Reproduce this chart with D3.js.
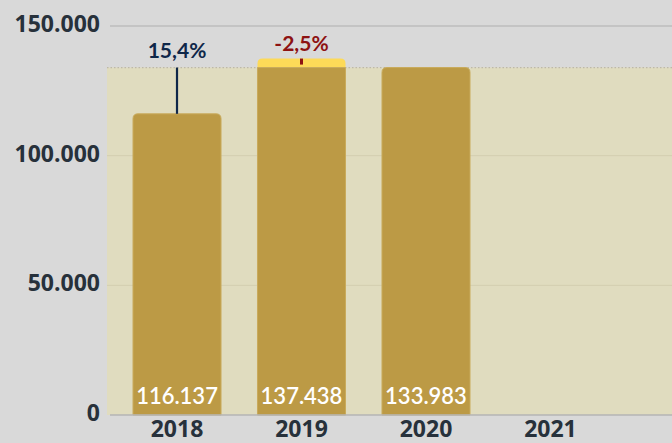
<!DOCTYPE html>
<meta charset="utf-8">
<style>
body { margin: 0; background: #d9d9d9; }
svg { display: block; font-family: Lato, "Open Sans", sans-serif; }
.tick-label { fill: #27313b; font-family: "Open Sans", sans-serif; font-weight: 700; font-size: 23px; }
.value-label { fill: #fff; font-weight: 600; font-size: 22px; }
</style>
<svg width="672" height="443"></svg>
<script src="https://d3js.org/d3.v7.min.js"></script>
<script>

var years = ["2018", "2019", "2020", "2021"];
var values = [116137, 137438, 133983, null];
var changes = [null, 15.4, -2.5, null];   // change vs previous year, drawn over previous bar
var yTicks = [0, 50000, 100000, 150000];

var svg = d3.select("svg"),
    width = +svg.attr("width"),
    height = +svg.attr("height");

var left = 107, baseline = 415;

var x = d3.scaleBand()
    .domain(years)
    .range([133, 594.5])
    .paddingInner(0.293)
    .paddingOuter(0);

var y = d3.scaleLinear()
    .domain([0, 150000])
    .range([baseline, 26]);

var fmt = function(v) { return d3.format(",")(v).replace(/,/g, "."); };

// gridlines
svg.selectAll(".grid")
  .data(yTicks.filter(function(d) { return d > 0; }))
  .enter().append("line")
    .attr("x1", left + 3).attr("x2", width)
    .attr("y1", function(d) { return y(d); })
    .attr("y2", function(d) { return y(d); })
    .attr("stroke", "#bdbdbd")
    .attr("stroke-width", 1.5);

// shaded area up to latest value
var last = values[2];
svg.append("rect")
    .attr("x", left).attr("width", width - left)
    .attr("y", y(last)).attr("height", baseline - y(last))
    .attr("fill", "#e0dcbf");

svg.selectAll(".grid2")
  .data([50000, 100000])
  .enter().append("line")
    .attr("x1", left).attr("x2", width)
    .attr("y1", function(d) { return y(d); })
    .attr("y2", function(d) { return y(d); })
    .attr("stroke", "#d3ceb0")
    .attr("stroke-width", 1);

svg.append("line")
    .attr("x1", left).attr("x2", width)
    .attr("y1", y(last)).attr("y2", y(last))
    .attr("stroke", "#bdb8a8")
    .attr("stroke-width", 1.2)
    .attr("stroke-dasharray", "1.5,2");

var r = 5;
function topRounded(x0, y0, w, h) {
  return "M" + x0 + "," + (y0 + h) + "V" + (y0 + r) +
    "Q" + x0 + "," + y0 + " " + (x0 + r) + "," + y0 +
    "H" + (x0 + w - r) +
    "Q" + (x0 + w) + "," + y0 + " " + (x0 + w) + "," + (y0 + r) +
    "V" + (y0 + h) + "Z";
}

var data = years.map(function(d, i) { return {year: d, value: values[i], change: changes[i]}; })
    .filter(function(d) { return d.value != null; });

// yellow highlight for part above last value
svg.selectAll(".over")
  .data(data.filter(function(d) { return d.value > last; }))
  .enter().append("path")
    .attr("fill", "#fdda58")
    .attr("d", function(d) { return topRounded(x(d.year), y(d.value), x.bandwidth(), y(last) - y(d.value) + 1); });

svg.selectAll(".bar")
  .data(data)
  .enter().append("path")
    .attr("fill", "#bc9a45")
    .attr("stroke", "#c9ab5c")
    .attr("stroke-width", 1)
    .attr("d", function(d) {
      var v = Math.min(d.value, last);
      if (d.value > last) return "M" + x(d.year) + "," + y(v) + "h" + x.bandwidth() + "V" + baseline + "h" + (-x.bandwidth()) + "Z";
      return topRounded(x(d.year), y(v), x.bandwidth(), baseline - y(v));
    });

svg.selectAll(".value-label")
  .data(data)
  .enter().append("text")
    .attr("class", "value-label")
    .attr("x", function(d) { return x(d.year) + x.bandwidth() / 2; })
    .attr("y", baseline - 11)
    .attr("text-anchor", "middle")
    .text(function(d) { return fmt(d.value); });

// change markers
var chg = data.filter(function(d) { return d.change != null; });
chg.forEach(function(d) {
  var i = years.indexOf(d.year);
  var cx = x(years[i - 1]) + x.bandwidth() / 2;
  var up = d.change > 0;
  var col = up ? "#0f2749" : "#8d1212";
  var from = values[i - 1];
  svg.append("line")
      .attr("x1", cx).attr("x2", cx)
      .attr("y1", y(from))
      .attr("y2", up ? y(last) : y(from) + 6)
      .attr("stroke", col)
      .attr("stroke-width", up ? 2.2 : 3);
  svg.append("text")
      .attr("x", cx)
      .attr("y", up ? y(last) - 10 : y(from) - 8)
      .attr("text-anchor", "middle")
      .attr("fill", col)
      .attr("font-weight", 700)
      .attr("font-size", "21px")
      .text((d.change < 0 ? "-" : "") + Math.abs(d.change).toFixed(1).replace(".", ",") + "%");
});

// axes labels
svg.append("line")
    .attr("x1", left + 3).attr("x2", width)
    .attr("y1", baseline).attr("y2", baseline)
    .attr("stroke", "#b5b5b5")
    .attr("stroke-width", 1.5);

svg.selectAll(".ylab")
  .data(yTicks)
  .enter().append("text")
    .attr("class", "tick-label")
    .attr("x", 100)
    .attr("y", function(d) { return y(d) + 6; })
    .attr("text-anchor", "end")
    .text(function(d) { return fmt(d); });

svg.selectAll(".xlab")
  .data(years)
  .enter().append("text")
    .attr("class", "tick-label")
    .attr("x", function(d) { return x(d) + x.bandwidth() / 2; })
    .attr("y", 437)
    .attr("text-anchor", "middle")
    .text(function(d) { return d; });

</script>
